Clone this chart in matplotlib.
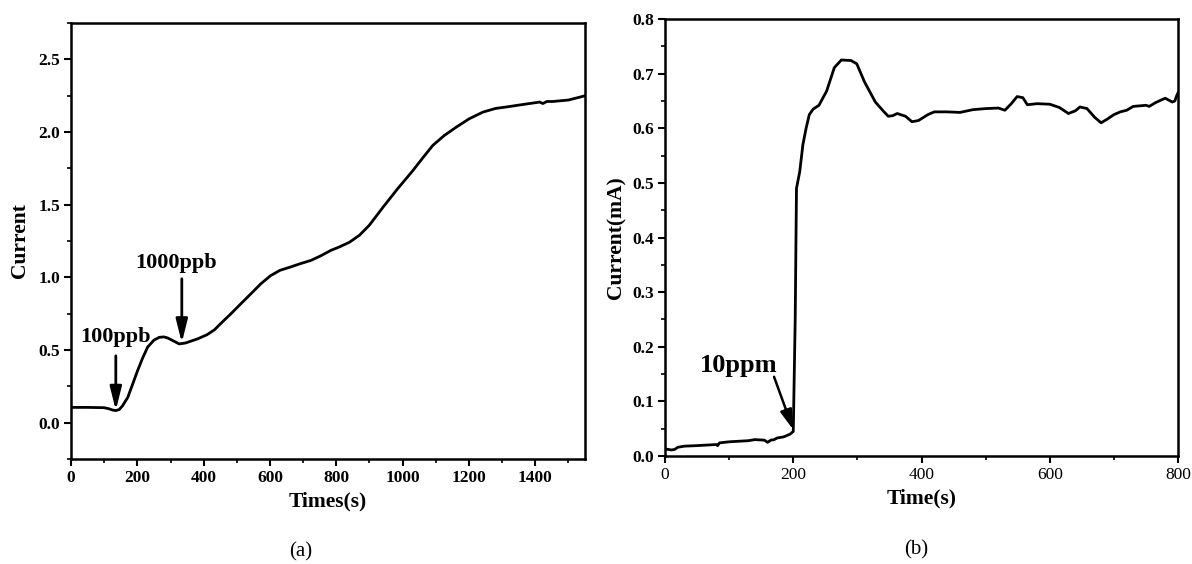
import matplotlib
matplotlib.use("Agg")
import matplotlib.pyplot as plt
from matplotlib.ticker import MultipleLocator

# ── data ─────────────────────────────────────────────────────────────────────
# (a) current vs time, two gas injections
t_a = [0, 50, 100, 115, 125, 135, 145, 155, 171, 185, 201, 216, 231, 250, 266,
       280, 291, 305, 326, 345, 381, 410, 432, 455, 482, 512, 542, 572, 602,
       630, 663, 690, 723, 753, 783, 810, 840, 870, 900, 941, 985, 1031, 1060,
       1091, 1125, 1162, 1200, 1242, 1280, 1312, 1350, 1380, 1413, 1423, 1435,
       1453, 1500, 1543, 1550]
i_a = [0.105, 0.105, 0.103, 0.095, 0.087, 0.083, 0.09, 0.115, 0.174, 0.26,
       0.36, 0.445, 0.52, 0.568, 0.587, 0.59, 0.583, 0.567, 0.542, 0.548, 0.576,
       0.605, 0.638, 0.69, 0.749, 0.818, 0.886, 0.955, 1.012, 1.048, 1.072,
       1.093, 1.116, 1.148, 1.185, 1.21, 1.242, 1.29, 1.36, 1.483, 1.61, 1.735,
       1.82, 1.908, 1.975, 2.034, 2.09, 2.137, 2.162, 2.172, 2.185, 2.195,
       2.206, 2.196, 2.21, 2.21, 2.22, 2.245, 2.25]

# (b) current (mA) vs time, 10 ppm step
t_b = [0, 5, 10, 15, 20, 30, 50, 80, 82, 85, 100, 130, 140, 155, 160, 165, 170,
       175, 185, 195, 200, 203, 205, 210, 215, 220, 225, 231, 240, 252, 264, 275,
       290, 299, 311, 328, 340, 348, 355, 362, 375, 385, 395, 410, 420, 440, 460,
       480, 500, 520, 530, 540, 549, 558, 565, 580, 600, 615, 629, 640, 647, 658,
       670, 680, 690, 700, 710, 720, 730, 750, 755, 765, 780, 791, 795, 798, 800]
i_b = [0.013, 0.012, 0.011, 0.012, 0.016, 0.018, 0.019, 0.021, 0.019, 0.024,
       0.026, 0.028, 0.030, 0.029, 0.025, 0.029, 0.030, 0.033, 0.035, 0.040,
       0.045, 0.25, 0.49, 0.52, 0.57, 0.60, 0.625, 0.635, 0.642, 0.668, 0.711,
       0.725, 0.724, 0.718, 0.685, 0.648, 0.632, 0.622, 0.623, 0.627, 0.622,
       0.612, 0.614, 0.625, 0.630, 0.630, 0.629, 0.634, 0.636, 0.637, 0.633,
       0.645, 0.658, 0.656, 0.643, 0.645, 0.644, 0.638, 0.627, 0.632, 0.639,
       0.636, 0.620, 0.610, 0.617, 0.625, 0.630, 0.633, 0.640, 0.642, 0.640,
       0.647, 0.655, 0.648, 0.650, 0.660, 0.665]

SERIF = "Liberation Serif"
plt.rcParams["font.family"] = SERIF

fig = plt.figure(figsize=(11.92, 5.64), dpi=100)
fig.patch.set_facecolor("white")

ax1 = fig.add_axes([0.0596, 0.1862, 0.4312, 0.773])
ax2 = fig.add_axes([0.5579, 0.1915, 0.4304, 0.7748])


def style(ax):
    for sp in ax.spines.values():
        sp.set_linewidth(1.8)
    ax.tick_params(which="major", direction="out", length=5, width=1.5,
                   labelsize=12.5, pad=3)
    ax.tick_params(which="minor", direction="out", length=3, width=1.2)
    ax.tick_params(top=False, right=False)


ARROW = "-|>,head_length=1.0,head_width=0.25"

# ── (a) ──────────────────────────────────────────────────────────────────────
ax1.plot(t_a, i_a, color="black", lw=2, solid_joinstyle="round")
ax1.set_xlim(0, 1550)
ax1.set_ylim(-0.25, 2.75)
ax1.xaxis.set_major_locator(MultipleLocator(200))
ax1.xaxis.set_minor_locator(MultipleLocator(100))
ax1.yaxis.set_major_locator(MultipleLocator(0.5))
ax1.yaxis.set_minor_locator(MultipleLocator(0.25))
style(ax1)
for lab in ax1.get_xticklabels() + ax1.get_yticklabels():
    lab.set_fontweight("bold")
ax1.set_xlabel("Times(s)", fontsize=15.5, fontweight="bold", labelpad=4)
ax1.set_ylabel("Current", fontsize=15.5, fontweight="bold", labelpad=6)

arrow_kw = dict(arrowstyle=ARROW, color="black", lw=2, mutation_scale=14,
                shrinkA=0, shrinkB=0)
ax1.annotate("", xy=(135, 0.085), xytext=(135, 0.46), arrowprops=arrow_kw)
ax1.text(133, 0.52, "100ppb", ha="center", va="bottom", fontsize=16,
         fontweight="bold")
ax1.annotate("", xy=(334, 0.55), xytext=(334, 0.99), arrowprops=arrow_kw)
ax1.text(318, 1.03, "1000ppb", ha="center", va="bottom", fontsize=16,
         fontweight="bold")

# ── (b) ──────────────────────────────────────────────────────────────────────
ax2.plot(t_b, i_b, color="black", lw=2, solid_joinstyle="round")
ax2.set_xlim(0, 800)
ax2.set_ylim(0, 0.8)
ax2.xaxis.set_major_locator(MultipleLocator(200))
ax2.xaxis.set_minor_locator(MultipleLocator(100))
ax2.yaxis.set_major_locator(MultipleLocator(0.1))
ax2.yaxis.set_minor_locator(MultipleLocator(0.05))
style(ax2)
for lab in ax2.get_yticklabels():
    lab.set_fontweight("bold")
ax2.set_xlabel("Time(s)", fontsize=15.5, fontweight="bold", labelpad=4)
ax2.set_ylabel("Current(mA)", fontsize=15.5, fontweight="bold", labelpad=4)

ax2.annotate("", xy=(200, 0.048), xytext=(170, 0.145),
             arrowprops=dict(arrowstyle="-|>,head_length=1.0,head_width=0.3",
                             color="black", lw=1.8, mutation_scale=12,
                             shrinkA=0, shrinkB=0))
ax2.text(115, 0.145, "10ppm", ha="center", va="bottom", fontsize=19,
         fontweight="bold")

# ── captions ─────────────────────────────────────────────────────────────────
fig.text(301 / 1192, 1 - 552 / 564, "(a)", ha="center", va="center",
         fontsize=15)
fig.text(916 / 1192, 1 - 550 / 564, "(b)", ha="center", va="center",
         fontsize=15)

fig.savefig("out.png", dpi=100, facecolor="white")
